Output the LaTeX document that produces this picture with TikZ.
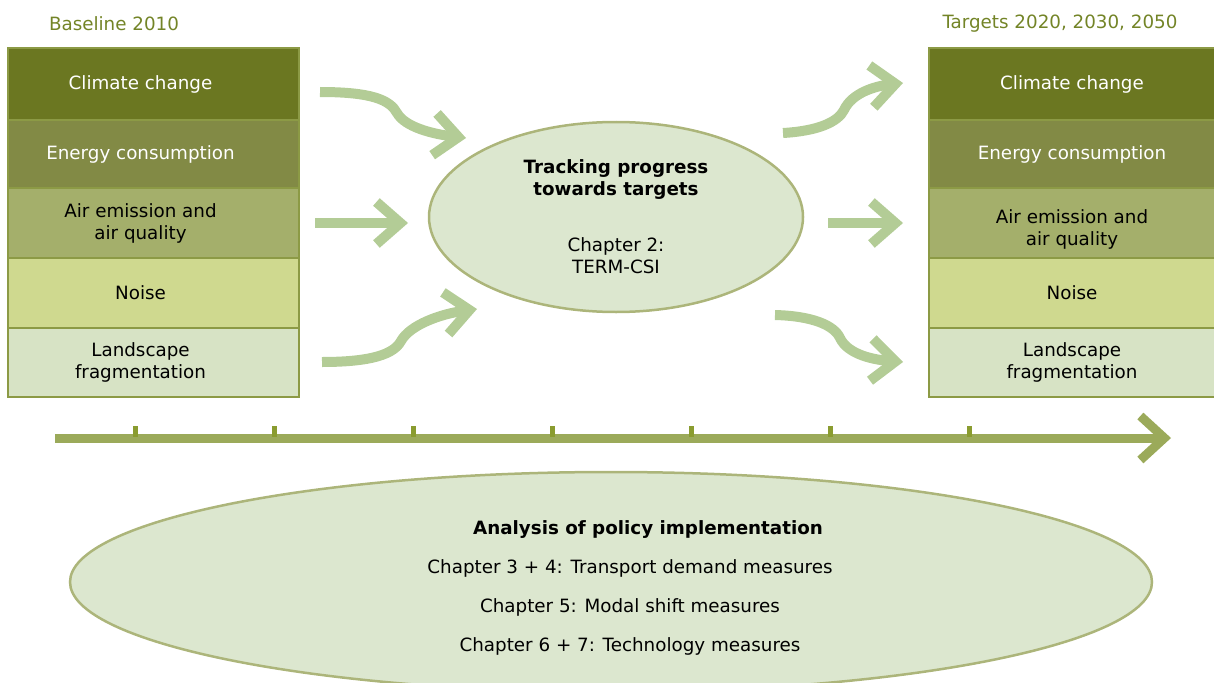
\documentclass[tikz,border=0pt]{standalone}
\usepackage{fontspec}
\setmainfont{DejaVu Sans}
\usetikzlibrary{shapes.geometric,arrows.meta}

\definecolor{headc}{HTML}{738427}
\definecolor{climc}{HTML}{6B7721}
\definecolor{enerc}{HTML}{828A45}
\definecolor{airc}{HTML}{A4AF6B}
\definecolor{noisec}{HTML}{CFD98F}
\definecolor{landc}{HTML}{D7E3C5}
\definecolor{boxline}{HTML}{8C9A45}
\definecolor{flowc}{HTML}{B3CC96}
\definecolor{ellfill}{HTML}{DCE7CF}
\definecolor{ellline}{HTML}{ACB57A}
\definecolor{timec}{HTML}{9BAA5A}
\definecolor{tickc}{HTML}{8A9C30}

\tikzset{
  txt/.style={align=center, font=\fontsize{18.3}{22}\selectfont},
  box/.style={draw=boxline, fill=#1, line width=1.5pt, minimum width=291pt, inner sep=0pt},
  wtext/.style={txt, text=white},
  btext/.style={txt, text=black},
  flow/.style={draw=flowc, line width=10pt, -{Straight Barb[length=24pt,width=42pt]}},
  timeline/.style={draw=timec, line width=9pt, -{Straight Barb[length=24pt,width=44pt]}},
  oval/.style={ellipse, draw=ellline, fill=ellfill, line width=2.5pt, inner sep=0pt}
}

\begin{document}
\begin{tikzpicture}[x=1pt,y=-1pt]
\useasboundingbox (0,0) rectangle (1214,682);

% headings
\node[txt, text=headc] (base) at (114,24) {Baseline 2010};
\node[txt, text=headc] (targ) at (1060,24) {Targets 2020, 2030, 2050};

% baseline column
\node[box=climc, minimum height=72pt, label={[wtext,xshift=-13pt]center:Climate change}] (lclim) at (153.5,84) {};
\node[box=enerc, minimum height=68pt, label={[wtext,xshift=-13pt]center:Energy consumption}] (lener) at (153.5,154) {};
\node[box=airc, minimum height=70pt, label={[btext,xshift=-13pt]center:Air emission and\\air quality}] (lair) at (153.5,223) {};
\node[box=noisec, minimum height=70pt, label={[btext,xshift=-13pt]center:Noise}] (lnoise) at (153.5,293) {};
\node[box=landc, minimum height=69pt, label={[btext,xshift=-13pt]center:Landscape\\fragmentation}] (lland) at (153.5,362.5) {};

% target column
\node[box=climc, minimum width=286pt, minimum height=72pt, label={[wtext]center:Climate change}] (rclim) at (1072,84) {};
\node[box=enerc, minimum width=286pt, minimum height=68pt, label={[wtext]center:Energy consumption}] (rener) at (1072,154) {};
\node[box=airc, minimum width=286pt, minimum height=70pt, label={[btext,yshift=-6pt]center:Air emission and\\air quality}] (rair) at (1072,223) {};
\node[box=noisec, minimum width=286pt, minimum height=70pt, label={[btext]center:Noise}] (rnoise) at (1072,293) {};
\node[box=landc, minimum width=286pt, minimum height=69pt, label={[btext]center:Landscape\\fragmentation}] (rland) at (1072,362.5) {};

% tracking progress
\node[oval, txt, minimum width=374pt, minimum height=190pt] (track) at (616,217)
  {\textbf{Tracking progress}\\\textbf{towards targets}\\[34pt]Chapter 2:\\TERM-CSI};

% arrow ends
\coordinate (in1) at (320,92);   \coordinate (to1) at (466,138);
\coordinate (in2) at (315,223);  \coordinate (to2) at (408,223);
\coordinate (in3) at (322,362);  \coordinate (to3) at (477,309);
\coordinate (out1) at (783,133); \coordinate (at1) at (903,83);
\coordinate (out2) at (828,223); \coordinate (at2) at (903,223);
\coordinate (out3) at (775,315); \coordinate (at3) at (903,362);

\draw[flow] (in1) .. controls (372,92) and (390,100) .. (397,113) .. controls (405,127) and (432,134) .. (to1);
\draw[flow] (in2) -- (to2);
\draw[flow] (in3) .. controls (372,362) and (394,354) .. (401,341) .. controls (410,325) and (440,314) .. (to3);
\draw[flow] (out1) .. controls (818,131) and (838,122) .. (844,110) .. controls (852,93) and (875,86) .. (at1);
\draw[flow] (out2) -- (at2);
\draw[flow] (out3) .. controls (812,316) and (834,325) .. (840,338) .. controls (848,355) and (875,360) .. (at3);

% time line
\coordinate (t0) at (55,438);
\coordinate (t1) at (1171,438);
\draw[timeline] (t0) -- (t1);
\foreach \x in {135,274,...,970}
  \fill[tickc] (\x-2.5,426) rectangle (\x+2.5,437);

% policy analysis
\node[oval, minimum width=1082pt, minimum height=220pt] (policy) at (611,582) {};
\node[txt] (polt) at (630,588)
  {\hspace*{36pt}\textbf{Analysis of policy implementation}\\[17pt]
   Chapter 3 + 4: Transport demand measures\\[17pt]
   Chapter 5: Modal shift measures\\[17pt]
   Chapter 6 + 7: Technology measures};
\end{tikzpicture}
\end{document}
